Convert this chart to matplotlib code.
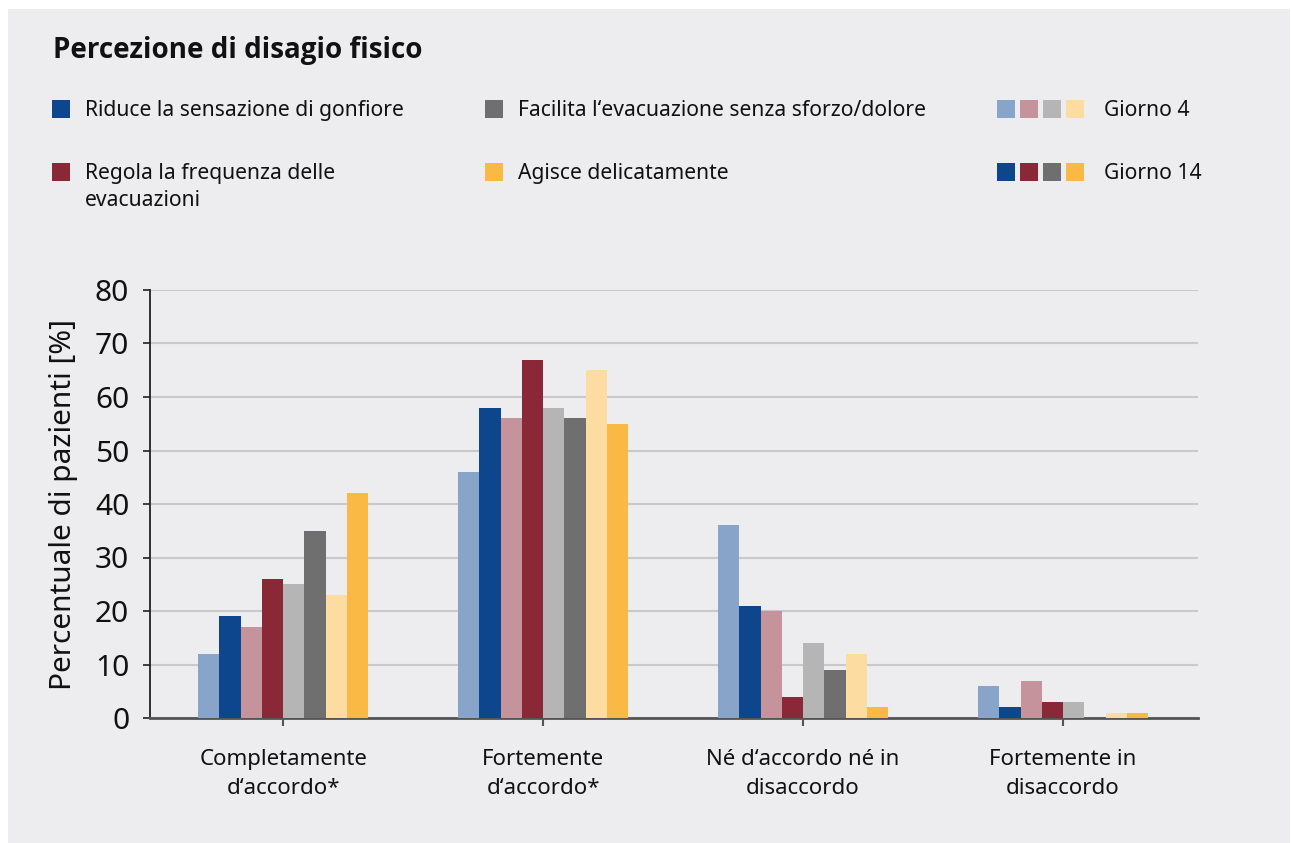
import matplotlib
matplotlib.use("Agg")
import matplotlib.pyplot as plt
from matplotlib.patches import Rectangle
import numpy as np

plt.rcParams['font.family'] = ['Noto Sans', 'DejaVu Sans']

# data
categories = ["Completamente\nd‘accordo*", "Fortemente\nd‘accordo*",
              "Né d‘accordo né in\ndisaccordo", "Fortemente in\ndisaccordo"]
gonfiore_g4 = [12, 46, 36, 6]
gonfiore_g14 = [19, 58, 21, 2]
frequenza_g4 = [17, 56, 20, 7]
frequenza_g14 = [26, 67, 4, 3]
evacuazione_g4 = [25, 58, 14, 3]
evacuazione_g14 = [35, 56, 9, 0]
delicato_g4 = [23, 65, 12, 1]
delicato_g14 = [42, 55, 2, 1]

series = [gonfiore_g4, gonfiore_g14, frequenza_g4, frequenza_g14,
          evacuazione_g4, evacuazione_g14, delicato_g4, delicato_g14]
colors = ['#88A4C8', '#0D468C', '#C5939B', '#8B2838',
          '#B5B5B5', '#6F6F6F', '#FCDCA0', '#F9B944']

legend_labels = ["Riduce la sensazione di gonfiore", "Regola la frequenza delle\nevacuazioni",
                 "Facilita l‘evacuazione senza sforzo/dolore", "Agisce delicatamente"]

bg = '#EDEDEF'
W, H = 1291, 843

fig = plt.figure(figsize=(W / 100, H / 100), dpi=100, facecolor='white')

# overlay in pixel coordinates for panel background and legend
ov = fig.add_axes([0, 0, 1, 1], zorder=0)
ov.set_xlim(0, W)
ov.set_ylim(H, 0)
ov.axis('off')
ov.add_patch(Rectangle((8, 9), 1282, 834, color=bg, lw=0))

ov.text(53, 58, "Percezione di disagio fisico", fontsize=20, fontweight='bold',
        family=['Open Sans', 'DejaVu Sans'], color='#111111', va='baseline', ha='left')

# legend: measures
leg_pos = [(52, 100), (52, 163), (485, 100), (485, 163)]
leg_cols = [colors[1], colors[3], colors[5], colors[7]]
for (lx, ly), c, lab in zip(leg_pos, leg_cols, legend_labels):
    ov.add_patch(Rectangle((lx, ly), 18, 18, color=c, lw=0))
    lines = lab.split("\n")
    for k, ln in enumerate(lines):
        ov.text(lx + 33, ly + 16 + 27 * k, ln, fontsize=15.2, color='#111111',
                va='baseline', ha='left')

# legend: days
for row, (lab, idx) in enumerate([("Giorno 4", [0, 2, 4, 6]), ("Giorno 14", [1, 3, 5, 7])]):
    ly = 100 + 63 * row
    for k, i in enumerate(idx):
        ov.add_patch(Rectangle((997 + 23 * k, ly), 18, 18, color=colors[i], lw=0))
    ov.text(1104, ly + 16, lab, fontsize=15.2, color='#111111', va='baseline', ha='left')

# main chart
ax = fig.add_axes([150 / W, 1 - 718 / H, 1048 / W, 428 / H], zorder=1)
ax.set_facecolor(bg)
x = np.arange(len(categories))
w = 0.0817
for i, (vals, c) in enumerate(zip(series, colors)):
    ax.bar(x + (i - 3.5) * w, vals, width=w, color=c, lw=0, zorder=3)

ax.set_xlim(-0.512, 3.519)
ax.set_ylim(0, 80)
ax.set_yticks(range(0, 81, 10))
ax.yaxis.grid(True, color='#C9C9CB', lw=1.5, zorder=0)
ax.set_axisbelow(True)
ax.set_xticks(x)
ax.set_xticklabels(categories, fontsize=16, color='#111111', linespacing=1.5)
ax.tick_params(axis='x', length=6, width=1.5, color='#555555', pad=16)
ax.tick_params(axis='y', length=5, width=1.2, color='#222222', pad=10,
               labelsize=21.5, labelcolor='#111111')
for s in ['top', 'right']:
    ax.spines[s].set_visible(False)
ax.spines['left'].set_color('#222222')
ax.spines['left'].set_linewidth(1.3)
ax.spines['bottom'].set_color('#555555')
ax.spines['bottom'].set_linewidth(2)
ax.set_ylabel("Percentuale di pazienti [%]", fontsize=21.5, color='#111111', labelpad=12)

fig.savefig("out.png", dpi=100, facecolor='white')
